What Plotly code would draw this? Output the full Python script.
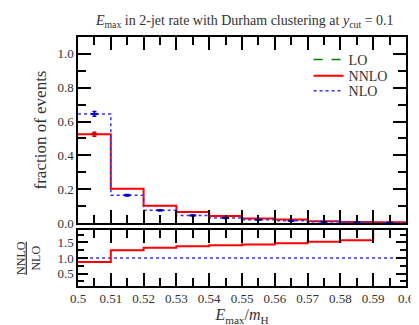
import plotly.graph_objects as go

# ---- data ----
bin_edges = [0.50, 0.51, 0.52, 0.53, 0.54, 0.55, 0.56, 0.57, 0.58, 0.59, 0.60]
lo_vals = [1.0, None, None, None, None, None, None, None, None, None]
nnlo_vals = [0.525, 0.203, 0.102, 0.065, 0.042, 0.027, 0.020, 0.011, 0.006, 0.004]
nnlo_err = [0.012, 0.004, 0.003, 0.002, 0.002, 0.002, 0.001, 0.001, 0.001, 0.001]
nlo_vals = [0.645, 0.164, 0.075, 0.045, 0.030, 0.019, 0.013, 0.007, 0.004, 0.002]
nlo_err = [0.014, 0.004, 0.003, 0.003, 0.003, 0.002, 0.002, 0.001, 0.001, 0.001]
ratio_vals = [0.87, 1.25, 1.33, 1.38, 1.41, 1.43, 1.47, 1.52, 1.57, 2.5]
nlo_ratio = [1.0] * 10
x_ticks = [0.5, 0.51, 0.52, 0.53, 0.54, 0.55, 0.56, 0.57, 0.58, 0.59, 0.6]
x_tick_labels = ["0.5", "0.51", "0.52", "0.53", "0.54", "0.55", "0.56", "0.57", "0.58", "0.59", "0.6"]
y_ticks = [0.0, 0.2, 0.4, 0.6, 0.8, 1.0]
ratio_ticks = [0.5, 1.0, 1.5]

centers = [(a + b) / 2 for a, b in zip(bin_edges[:-1], bin_edges[1:])]

def step(vals):
    return vals + [vals[-1]]

FONT = "'Liberation Serif', 'DejaVu Serif', serif"
RED = "#ff0000"
BLUE = "#3333ff"
GREEN = "#008000"
TXT = "#333333"

fig = go.Figure()

fig.add_trace(go.Scatter(x=bin_edges, y=step(lo_vals), mode="lines", line_shape="hv",
                         line=dict(color=GREEN, width=1.6, dash="dash"), name="LO",
                         xaxis="x", yaxis="y", connectgaps=False, legend="legend"))
fig.add_trace(go.Scatter(x=bin_edges, y=step(nnlo_vals), mode="lines", line_shape="hv",
                         line=dict(color=RED, width=2), name="NNLO", xaxis="x", yaxis="y", legend="legend2"))
fig.add_trace(go.Scatter(x=bin_edges, y=step(nlo_vals), mode="lines", line_shape="hv",
                         line=dict(color=BLUE, width=1.5, dash="dot"), name="NLO", xaxis="x", yaxis="y",
                         legend="legend3"))
# error bars
fig.add_trace(go.Scatter(x=centers, y=nlo_vals, mode="markers", showlegend=False,
                         marker=dict(symbol="line-ew-open", size=5, color="#0000cc", line=dict(width=2, color="#0000cc")),
                         error_y=dict(type="data", array=nlo_err, color="#0000cc", thickness=1.5, width=2),
                         xaxis="x", yaxis="y"))
fig.add_trace(go.Scatter(x=centers[:1], y=nnlo_vals[:1], mode="markers", showlegend=False,
                         marker=dict(symbol="line-ew-open", size=5, color="#cc0000", line=dict(width=2, color="#cc0000")),
                         error_y=dict(type="data", array=nnlo_err[:1], color="#cc0000", thickness=1.5, width=2),
                         xaxis="x", yaxis="y"))

# ratio panel
fig.add_trace(go.Scatter(x=bin_edges, y=step(nlo_ratio), mode="lines", line_shape="hv",
                         line=dict(color=BLUE, width=1.5, dash="dot"), showlegend=False, xaxis="x2", yaxis="y2"))
fig.add_trace(go.Scatter(x=bin_edges, y=step(ratio_vals), mode="lines", line_shape="hv",
                         line=dict(color=RED, width=2), showlegend=False, xaxis="x2", yaxis="y2"))

def ax(**kw):
    d = dict(showline=True, linecolor="rgb(0,0,0)", linewidth=1.5, mirror="ticks", ticks="inside",
             tickcolor="rgb(0,0,0)", tickwidth=2, zeroline=False, showgrid=False,
             layer="above traces")
    d.update(kw)
    return d

def minor(dt, ln):
    return dict(dtick=dt, ticklen=ln, tickcolor="rgb(0,0,0)", tickwidth=2, ticks="inside")

def leg(yc):
    return dict(x=0.703, xanchor="left", y=yc, yanchor="middle", bgcolor="rgba(0,0,0,0)",
                font=dict(family=FONT, size=14, color=TXT), itemwidth=30)

fig.update_layout(
    width=419, height=325,
    margin=dict(l=70, r=15, t=29, b=47),
    paper_bgcolor="white", plot_bgcolor="white",
    font=dict(family=FONT, size=13, color=TXT),
    title=dict(text="<i>E</i><sub>max</sub> in 2-jet rate with Durham clustering at <i>y</i><sub>cut</sub> = 0.1",
               x=0.565, xanchor="center", y=0.962, yanchor="middle", font=dict(family=FONT, size=14, color=TXT)),
    xaxis=ax(domain=[0, 1], range=[0.5, 0.6], anchor="y", showticklabels=False,
             tickvals=x_ticks, ticklen=13, minor=minor(0.005, 8)),
    yaxis=ax(domain=[0.253, 1], range=[0, 1.1], anchor="x", tickvals=y_ticks,
             tickformat=".1f", ticklen=13, minor=minor(0.1, 8),
             title=dict(text="fraction of events", font=dict(family=FONT, size=17, color=TXT), standoff=6)),
    xaxis2=ax(domain=[0, 1], range=[0.5, 0.6], anchor="y2", tickvals=x_ticks, ticktext=x_tick_labels,
              ticklen=13, minor=minor(0.005, 8),
              title=dict(text="<i>E</i><sub>max</sub>/<i>m</i><sub>H</sub>", font=dict(family=FONT, size=16, color=TXT), standoff=2)),
    yaxis2=ax(domain=[0, 0.225], range=[0.1, 1.9], anchor="x2", tickvals=ratio_ticks,
              tickformat=".1f", ticklen=10, minor=minor(0.25, 6)),
    legend=leg(0.908),
    legend2=leg(0.843),
    legend3=leg(0.783),
)

fig.add_annotation(text="<u>NNLO</u><br>NLO", textangle=-90, xref="paper", yref="paper",
                   x=-0.15, y=0.112, xanchor="center", yanchor="middle", showarrow=False,
                   font=dict(family=FONT, size=12, color=TXT))

fig.write_html("out.html")
